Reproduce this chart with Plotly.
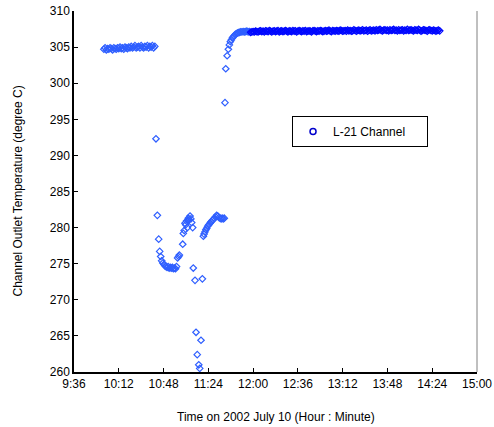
import plotly.graph_objects as go
import pandas as pd

DATE = "2002-07-10"

# Segment 1: steady operation before the transient (minutes after midnight)
seg1_min = [600, 601, 602, 603, 604, 605, 606, 607, 608, 609,
            610, 611, 612, 613, 614, 615, 616, 617, 618, 619,
            620, 621, 622, 623, 624, 625, 626, 627, 628, 629,
            630, 631, 632, 633, 634, 635, 636, 637, 638, 639,
            640, 641]
seg1_temp = [304.7, 304.9, 304.6, 304.8, 304.7, 304.9, 304.8, 304.6, 304.9, 304.8,
             304.7, 304.9, 304.8, 305.0, 304.8, 304.9, 304.7, 305.0, 304.9, 304.8,
             305.0, 304.9, 305.1, 304.9, 305.0, 305.2, 304.9, 305.0, 305.1, 304.9,
             305.2, 305.0, 304.9, 305.1, 305.0, 305.2, 304.9, 305.1, 305.0, 305.2,
             304.9, 305.1]

# Segment 2: transient dip and recovery
seg2_min = [641.9, 643.0, 644.1, 644.9, 645.7, 646.5, 647.4, 648.3, 649.1, 650.0,
            650.8, 651.7, 652.5, 653.4, 654.2, 655.1, 655.9, 656.8, 657.6, 658.4,
            659.3, 660.1, 660.7, 663.4, 663.9, 664.6, 665.2, 665.8, 666.5, 667.1,
            667.6, 667.9, 668.6, 669.3, 670.0, 670.6, 671.4, 671.9, 673.3, 674.1,
            675.1, 676.3, 677.1, 678.1, 679.2, 680.0, 680.6, 681.3, 682.0, 682.7,
            683.5, 684.4, 685.3, 686.2, 687.1, 688.0, 688.9, 689.8, 690.7, 691.6,
            692.5, 693.4, 694.3, 695.1, 696.0, 696.8,
            697.4, 698.0, 699.1, 700.1, 700.9, 701.7, 702.5, 703.3, 704.1, 704.9,
            705.7, 706.5, 707.3, 708.1, 709.0, 710.0, 711.0, 712.0, 713.0, 714.0,
            715.0, 716.0, 717.0]
seg2_temp = [292.3, 281.7, 278.4, 276.7, 276.0, 275.4, 275.1, 274.9, 274.7, 274.6,
             274.5, 274.6, 274.4, 274.5, 274.4, 274.5, 274.3, 274.4, 274.3, 274.6,
             275.8, 276.0, 276.2, 277.7, 279.2, 279.6, 280.6, 280.4, 280.9, 280.0,
             281.0, 281.3, 281.1, 281.6, 281.2, 280.7, 280.0, 274.4, 272.7, 265.5,
             262.4, 261.0, 260.5, 264.4, 272.9, 278.8, 279.1, 279.4, 279.7, 279.9,
             280.2, 280.4, 280.6, 280.8, 281.0, 281.1, 281.3, 281.5, 281.7, 281.6,
             281.4, 281.3, 281.2, 281.3, 281.2, 281.3,
             297.3, 302.0, 303.8, 304.7, 305.3, 305.75, 306.0, 306.25, 306.45, 306.6,
             306.75, 306.85, 306.95, 307.0, 307.05, 307.1, 307.1, 307.15, 307.1, 307.15,
             307.2, 307.1, 307.15]

# Segment 3: new steady state
seg3_min = [718, 719, 720, 721, 722, 723, 724, 725, 726, 727,
            728, 729, 730, 731, 732, 733, 734, 735, 736, 737,
            738, 739, 740, 741, 742, 743, 744, 745, 746, 747,
            748, 749, 750, 751, 752, 753, 754, 755, 756, 757,
            758, 759, 760, 761, 762, 763, 764, 765, 766, 767,
            768, 769, 770, 771, 772, 773, 774, 775, 776, 777,
            778, 779, 780, 781, 782, 783, 784, 785, 786, 787,
            788, 789, 790, 791, 792, 793, 794, 795, 796, 797,
            798, 799, 800, 801, 802, 803, 804, 805, 806, 807,
            808, 809, 810, 811, 812, 813, 814, 815, 816, 817,
            818, 819, 820, 821, 822, 823, 824, 825, 826, 827,
            828, 829, 830, 831, 832, 833, 834, 835, 836, 837,
            838, 839, 840, 841, 842, 843, 844, 845, 846, 847,
            848, 849, 850, 851, 852, 853, 854, 855, 856, 857,
            858, 859, 860, 861, 862, 863, 864, 865, 866, 867,
            868, 869, 870]
seg3_temp = [307.05, 307.1, 307.15, 307.1, 307.2, 307.15, 307.1, 307.2, 307.25, 307.15,
             307.2, 307.1, 307.25, 307.2, 307.15, 307.3, 307.2, 307.1, 307.2, 307.25,
             307.15, 307.2, 307.3, 307.1, 307.2, 307.25, 307.15, 307.2, 307.3, 307.2,
             307.1, 307.25, 307.2, 307.15, 307.3, 307.2, 307.25, 307.1, 307.2, 307.3,
             307.2, 307.15, 307.25, 307.2, 307.3, 307.15, 307.2, 307.25, 307.2, 307.1,
             307.25, 307.3, 307.2, 307.15, 307.25, 307.2, 307.3, 307.25, 307.15, 307.2,
             307.3, 307.2, 307.25, 307.35, 307.2, 307.15, 307.3, 307.25, 307.2, 307.3,
             307.25, 307.2, 307.35, 307.3, 307.2, 307.25, 307.3, 307.2, 307.35, 307.25,
             307.3, 307.2, 307.25, 307.4, 307.3, 307.2, 307.3, 307.35, 307.25, 307.3,
             307.4, 307.25, 307.3, 307.35, 307.2, 307.3, 307.4, 307.25, 307.3, 307.35,
             307.25, 307.4, 307.3, 307.35, 307.45, 307.3, 307.25, 307.35, 307.4, 307.3,
             307.35, 307.25, 307.4, 307.3, 307.35, 307.45, 307.3, 307.35, 307.25, 307.4,
             307.3, 307.35, 307.4, 307.25, 307.35, 307.3, 307.45, 307.3, 307.35, 307.4,
             307.3, 307.25, 307.4, 307.35, 307.3, 307.45, 307.35, 307.2, 307.3, 307.4,
             307.35, 307.3, 307.2, 307.35, 307.4, 307.3, 307.25, 307.35, 307.3, 307.2,
             307.3, 307.35, 307.25]

tick_minutes = [576, 612, 648, 684, 720, 756, 792, 828, 864, 900]

series_name = "L-21 Channel"
x_title = "Time on 2002 July 10 (Hour : Minute)"
y_title = "Channel Outlet Temperature (degree C)"

base = pd.Timestamp(DATE)


def to_dt(mins):
    return [base + pd.Timedelta(minutes=m) for m in mins]


all_min = seg1_min + seg2_min + seg3_min
all_temp = seg1_temp + seg2_temp + seg3_temp

FONT = "Liberation Sans, Arial, sans-serif"
LIGHT = "#2f5fff"
DARK = "#0008ff"
colors = [LIGHT] * (len(seg1_min) + len(seg2_min)) + [DARK] * len(seg3_min)

fig = go.Figure()
fig.add_trace(go.Scatter(
    x=to_dt(all_min), y=all_temp, mode="markers", showlegend=False,
    marker=dict(symbol="diamond-open", size=5, color=colors, line=dict(width=1.2, color=colors)),
))
# legend entry (circle symbol like the original)
fig.add_trace(go.Scatter(
    x=[None], y=[None], mode="markers", name=series_name + "     ",
    marker=dict(symbol="circle-open", size=6, color="#0000cc", line=dict(width=1.5, color="#0000cc")),
))

tickvals = to_dt(tick_minutes)
fig.update_layout(
    width=494, height=427,
    margin=dict(l=74, r=17, t=11, b=55),
    paper_bgcolor="white", plot_bgcolor="white",
    font=dict(family=FONT, size=12, color="black"),
    showlegend=True,
    legend=dict(x=0.541, y=0.709, xanchor="left", yanchor="top",
                bordercolor="black", borderwidth=1, bgcolor="white",
                itemwidth=30,
                font=dict(family=FONT, size=12, color="black")),
    xaxis=dict(type="date", range=[tickvals[0], tickvals[-1]], automargin=False,
               tickvals=tickvals, tickformat="%-H:%M",
               ticks="inside", ticklen=4, tickcolor="black", tickwidth=1,
               showline=True, linecolor="black", linewidth=1.5,
               showgrid=False, zeroline=False,
               tickfont=dict(family=FONT, size=12, color="black")),
    yaxis=dict(range=[260, 310], dtick=5, tick0=260, automargin=False,
               ticks="inside", ticklen=4, tickcolor="black", tickwidth=1,
               showline=True, linecolor="black", linewidth=1.5,
               showgrid=False, zeroline=False,
               tickfont=dict(family=FONT, size=12, color="black")),
    annotations=[
        dict(text=x_title, xref="paper", yref="paper", x=0.5, y=-0.1247,
             xanchor="center", yanchor="middle", showarrow=False,
             font=dict(family=FONT, size=12, color="black")),
        dict(text=y_title, xref="paper", yref="paper", x=-0.1414, y=0.5,
             xanchor="center", yanchor="middle", textangle=-90, showarrow=False,
             font=dict(family=FONT, size=12, color="black")),
    ],
    shapes=[
        dict(type="line", xref="paper", yref="paper", x0=1, x1=1, y0=0, y1=1,
             line=dict(color="#808080", width=1)),
    ],
)

fig.write_html("out.html", config={"displayModeBar": False},
               post_script="document.body.style.margin='0';document.body.style.overflow='hidden';")
